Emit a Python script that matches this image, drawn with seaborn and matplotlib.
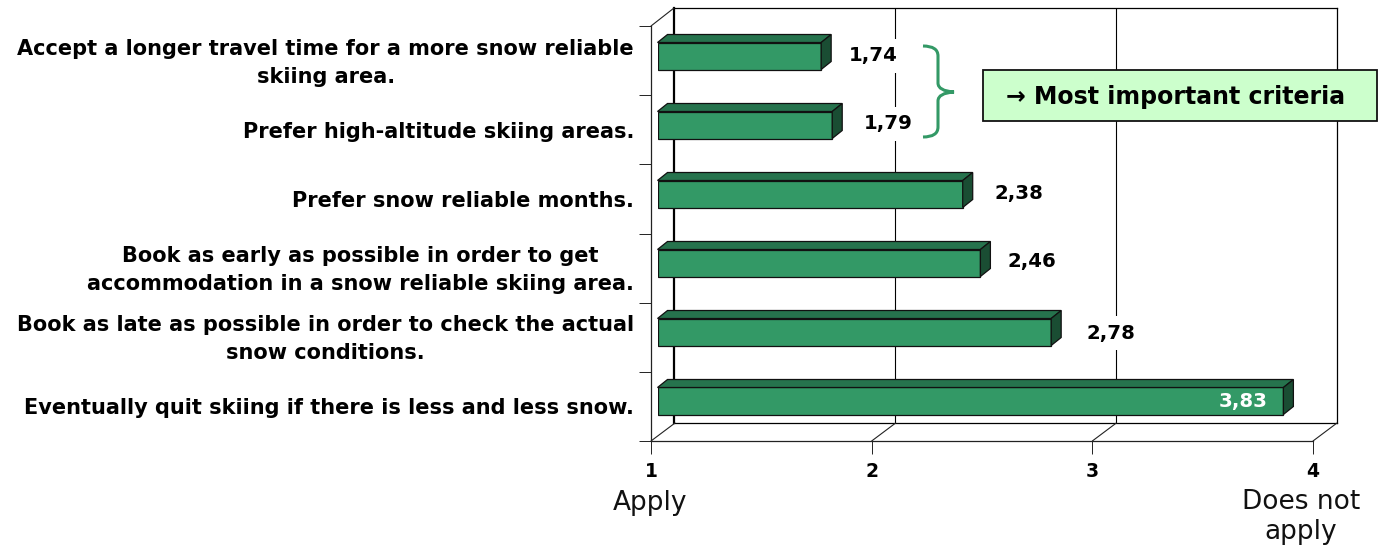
import matplotlib
matplotlib.use("Agg")
import matplotlib.pyplot as plt
import pandas as pd
import seaborn as sns
from matplotlib.lines import Line2D
from matplotlib.patches import PathPatch, Polygon, Rectangle
from matplotlib.path import Path
from matplotlib.transforms import Affine2D, ScaledTranslation

# Data
items = [
    "Accept a longer travel time for a more snow reliable\nskiing area.",
    "Prefer high-altitude skiing areas.",
    "Prefer snow reliable months.",
    "Book as early as possible in order to get\naccommodation in a snow reliable skiing area.",
    "Book as late as possible in order to check the actual\nsnow conditions.",
    "Eventually quit skiing if there is less and less snow.",
]
scores = [1.74, 1.79, 2.38, 2.46, 2.78, 3.83]
x_ticks = [1, 2, 3, 4]

W, H = 1378, 547
GREEN = "#339966"
TOP = "#26734d"
SIDE = "#1a4d33"

sns.set_theme(style="white")
plt.rcParams["font.family"] = ["DejaVu Sans"]

fig = plt.figure(figsize=(W / 100, H / 100), dpi=100, facecolor="white")
px = Affine2D().scale(1 / W, -1 / H).translate(0, 1) + fig.transFigure


def axes_px(left, top, right, bottom, **kw):
    return fig.add_axes([left / W, 1 - bottom / H, (right - left) / W, (bottom - top) / H], **kw)


# back wall with the gridlines
ax_back = axes_px(674, 8, 1337, 423, zorder=1)
ax_back.set_xlim(1, 4)
ax_back.set_ylim(0, 1)
ax_back.set_xticks([2, 3])
ax_back.set_yticks([])
ax_back.tick_params(length=0, labelbottom=False)
ax_back.grid(axis="x", color="black", lw=0.8)
for name, spine in ax_back.spines.items():
    spine.set_color("black")
    spine.set_linewidth(1.6 if name == "left" else 0.9)

# front plane: value axis and the category tick marks
ax_front = axes_px(651, 26, 1313, 441, zorder=2, facecolor="none")
ax_front.set_xlim(1, 4)
ax_front.set_ylim(0, 6)
ax_front.set_xticks(x_ticks)
ax_front.set_xticklabels([str(t) for t in x_ticks], fontweight="bold", fontsize=13.5, color="black")
ax_front.set_yticks(range(7))
ax_front.set_yticklabels([])
ax_front.tick_params(axis="both", direction="out", length=9, width=0.7, color="#222222", left=True, bottom=True)
ax_front.tick_params(axis="x", pad=6)
for name in ["top", "right"]:
    ax_front.spines[name].set_visible(False)
for name in ["left", "bottom"]:
    ax_front.spines[name].set_color("#222222")
    ax_front.spines[name].set_linewidth(0.9)

# floor diagonals and the corner on the left wall
for t in x_ticks:
    x0 = 651 + (t - 1) * 662 / 3
    fig.add_artist(Line2D([x0, x0 + 24], [441, 423], transform=px, color="#222222", lw=0.8, zorder=3))
fig.add_artist(Line2D([651, 674], [26, 8], transform=px, color="#222222", lw=0.8, zorder=3))

# bars
ax_bar = axes_px(657.5, 21.5, 1321, 435.5, zorder=4, facecolor="none")
df = pd.DataFrame({"item": items, "score": scores})
sns.barplot(data=df, y="item", x="score", ax=ax_bar, color=GREEN, saturation=1,
            width=27 / 69, edgecolor="#111111", linewidth=0.9)
ax_bar.set_xlim(1, 4)
ax_bar.set_xlabel("")
ax_bar.set_ylabel("")
ax_bar.set_xticks([])
ax_bar.tick_params(axis="y", length=0, pad=17)
for spine in ax_bar.spines.values():
    spine.set_visible(False)

dx = 10 / 221.2
dy = 8 / 69
for patch, score in zip(ax_bar.patches, scores):
    patch.set_x(1)
    patch.set_width(score - 1)
    y0 = patch.get_y()
    y1 = y0 + patch.get_height()
    ax_bar.add_patch(Polygon([(1, y0), (1 + dx, y0 - dy), (score + dx, y0 - dy), (score, y0)],
                             facecolor=TOP, edgecolor="#111111", lw=0.9, clip_on=False))
    ax_bar.add_patch(Polygon([(score, y0), (score + dx, y0 - dy), (score + dx, y1 - dy), (score, y1)],
                             facecolor=SIDE, edgecolor="#111111", lw=0.9, clip_on=False))

# category labels sit a little below the bar centres
for label in ax_bar.get_yticklabels():
    label.set_fontweight("bold")
    label.set_fontsize(15)
    label.set_color("black")
    label.set_multialignment("center")
    label.set_linespacing(1.5)
    shift = 1 if "\n" in label.get_text() else 5
    label.set_transform(label.get_transform() + ScaledTranslation(0, -shift / 100, fig.dpi_scale_trans))

# value labels, offset from the bar end in pixels
label_offsets = [(52, 0), (56, -1), (56, 0), (51, -2), (60, 1)]
for i, score in enumerate(scores[:-1]):
    ax_bar.annotate(f"{score:.2f}".replace(".", ","), xy=(score, i), xytext=(label_offsets[i][0] * 0.72, -label_offsets[i][1] * 0.72),
                    textcoords="offset points", ha="center", va="center", fontweight="bold", fontsize=14.2, color="black",
                    bbox=dict(boxstyle="square,pad=0.4", facecolor="white", edgecolor="none"), zorder=6)
ax_bar.annotate(f"{scores[-1]:.2f}".replace(".", ","), xy=(scores[-1], 5), xytext=(-40 * 0.72, 0),
                textcoords="offset points", ha="center", va="center", fontweight="bold", fontsize=14.2, color="white", zorder=6)

# brace
codes = [Path.MOVETO, Path.CURVE3, Path.CURVE3, Path.LINETO, Path.CURVE3, Path.CURVE3,
         Path.CURVE3, Path.CURVE3, Path.LINETO, Path.CURVE3, Path.CURVE3]
verts = [(923, 46), (938, 46), (938, 56), (938, 83), (938, 91), (954, 92),
         (938, 93), (938, 101), (938, 127), (938, 137), (923, 137)]
fig.add_artist(PathPatch(Path(verts, codes), transform=px, facecolor="none", edgecolor=GREEN, lw=2.2, zorder=7))

# callout
fig.add_artist(Rectangle((983, 70), 394, 51, transform=px, facecolor="#CCFFCC", edgecolor="#111111", lw=1.3, zorder=8))
fig.text(1176 / W, 1 - 97 / H, "\u2192 Most important criteria", ha="center", va="center",
         fontweight="bold", fontsize=17, color="black", zorder=9)

# axis end captions
fig.text(650 / W, 1 - 503 / H, "Apply", ha="center", va="center", fontsize=19, color="#111111", zorder=9)
fig.text(1301 / W, 1 - 517 / H, "Does not\napply", ha="center", va="center", fontsize=19, color="#111111",
         linespacing=1.2, zorder=9)

fig.savefig("out.png", dpi=100)
